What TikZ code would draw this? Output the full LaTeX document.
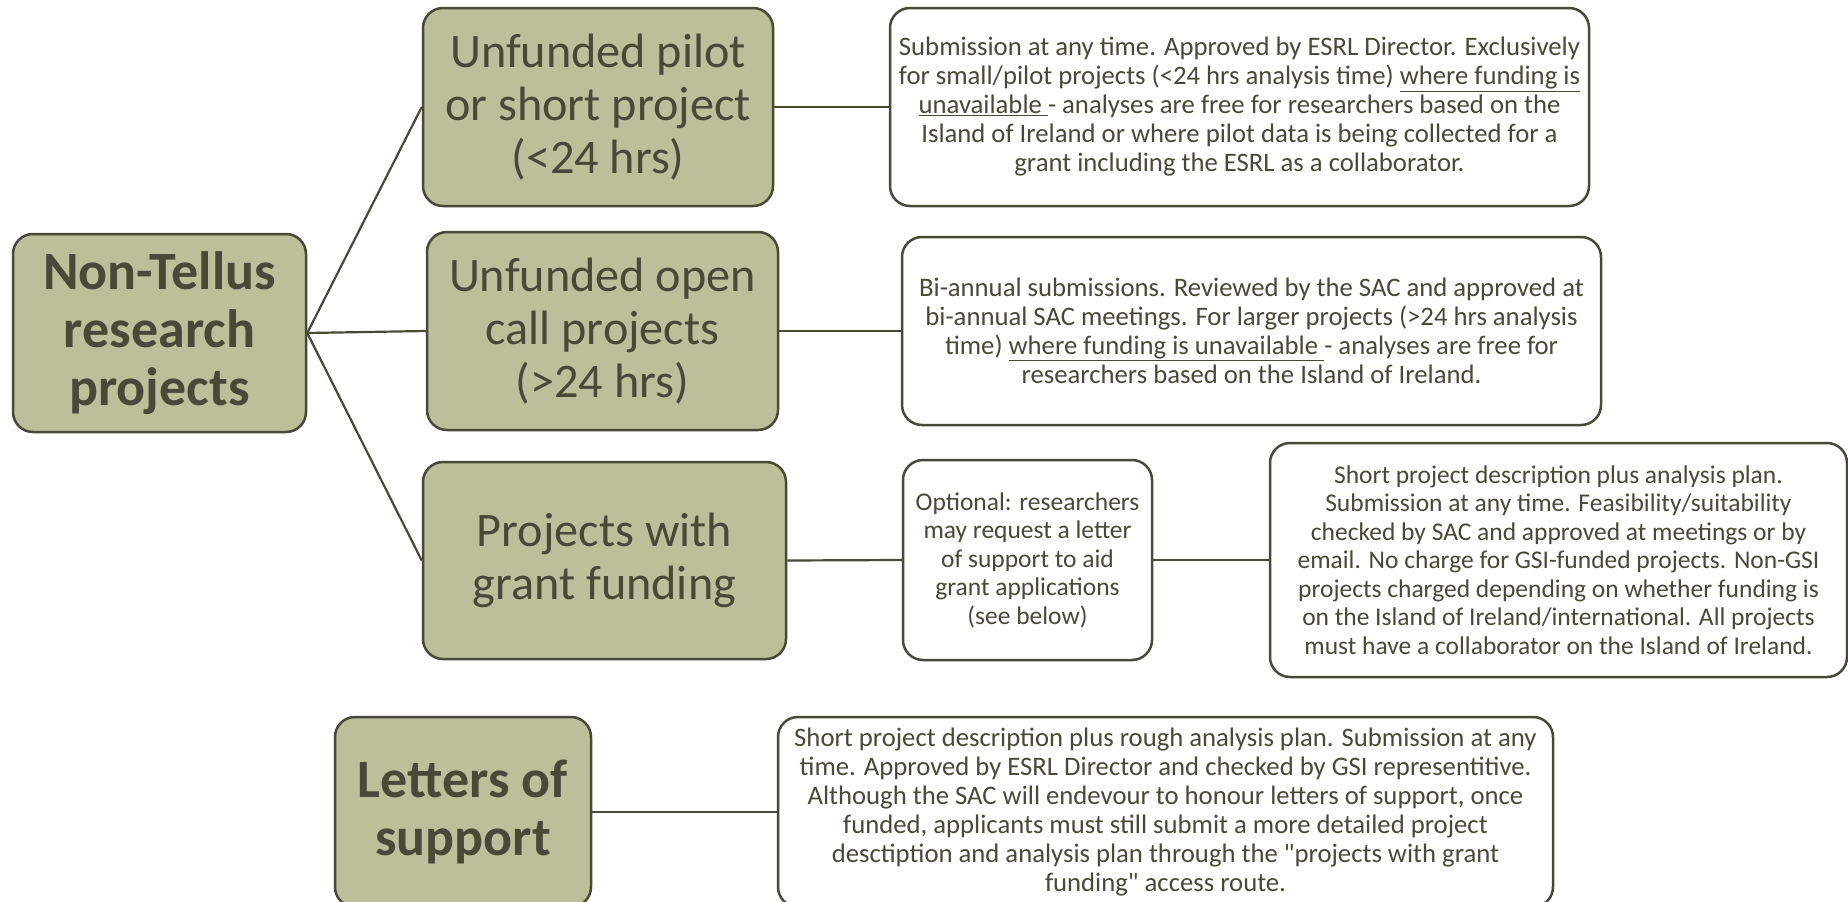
\documentclass[tikz,border=0pt]{standalone}
\usepackage{fontspec}
\setmainfont{Carlito}
\definecolor{boxfill}{RGB}{187,192,154}
\definecolor{ink}{RGB}{73,73,56}
\begin{document}
\begin{tikzpicture}[x=1pt,y=-1pt,
  mainbox/.style={draw=ink, line width=2.5pt, fill=boxfill, rounded corners=20pt, text=ink, align=center, inner sep=0pt, font={\fontsize{48.2}{53}\selectfont}},
  headbox/.style={mainbox, font={\fontsize{54}{58}\selectfont\bfseries}},
  descbox/.style={draw=ink, line width=2.5pt, fill=white, rounded corners=20pt, text=ink, align=center, inner sep=0pt, font={\fontsize{26.7}{29}\selectfont}},
  smalldesc/.style={descbox, font={\fontsize{25.5}{28.5}\selectfont}},
  link/.style={draw=ink, line width=2.2pt}]
\useasboundingbox (0,0) rectangle (1848,902);
\clip (0,0) rectangle (1848,902);
% left-hand boxes
\node[headbox, minimum width=293pt, minimum height=198pt] (nt) at (159.5,333) {Non-Tellus\\research\\projects};
\node[mainbox, minimum width=350pt, minimum height=198pt] (pilot) at (598,107) {Unfunded pilot\\or short project\\(<24 hrs)};
\node[mainbox, minimum width=351pt, minimum height=198pt] (open) at (602.5,331) {Unfunded open\\call projects\\(>24 hrs)};
\node[mainbox, minimum width=363pt, minimum height=197pt] (grant) at (604.5,560.5) {Projects with\\grant funding};
\node[headbox, minimum width=256pt, minimum height=190pt] (letters) at (463,812) {Letters of\\support};
% description boxes
\node[descbox, minimum width=699pt, minimum height=198pt] (d1) at (1239.5,107) {Submission at any time. Approved by ESRL Director. Exclusively\\for small/pilot projects (<24 hrs analysis time) \underline{where funding is}\\\underline{unavailable\ }- analyses are free for researchers based on the\\Island of Ireland or where pilot data is being collected for a\\grant including the ESRL as a collaborator.};
\node[descbox, minimum width=699pt, minimum height=188pt] (d2) at (1251.5,331) {Bi-annual submissions. Reviewed by the SAC and approved at\\bi-annual SAC meetings. For larger projects (>24 hrs analysis\\time) \underline{where funding is unavailable\ }- analyses are free for\\researchers based on the Island of Ireland.};
\node[smalldesc, minimum width=249pt, minimum height=200pt] (opt) at (1027.5,560) {Optional: researchers\\may request a letter\\of support to aid\\grant applications\\(see below)};
\node[smalldesc, minimum width=577pt, minimum height=234pt] (d3) at (1558.5,560) {Short project description plus analysis plan.\\Submission at any time. Feasibility/suitability\\checked by SAC and approved at meetings or by\\email. No charge for GSI-funded projects. Non-GSI\\projects charged depending on whether funding is\\on the Island of Ireland/international. All projects\\must have a collaborator on the Island of Ireland.};
\node[descbox, minimum width=775pt, minimum height=190pt] (d4) at (1165.5,812) {Short project description plus rough analysis plan. Submission at any\\time. Approved by ESRL Director and checked by GSI representitive.\\Although the SAC will endevour to honour letters of support, once\\funded, applicants must still submit a more detailed project\\desctiption and analysis plan through the \textquotedbl projects with grant\\funding\textquotedbl{} access route.};
% connectors
\draw[link] (nt.east) -- (pilot.west);
\draw[link] (nt.east) -- (open.west);
\draw[link] (nt.east) -- (grant.west);
\draw[link] (pilot.east) -- (d1.west);
\draw[link] (open.east) -- (d2.west);
\draw[link] (grant.east) -- (opt.west);
\draw[link] (opt.east) -- (d3.west);
\draw[link] (letters.east) -- (d4.west);
\end{tikzpicture}
\end{document}
